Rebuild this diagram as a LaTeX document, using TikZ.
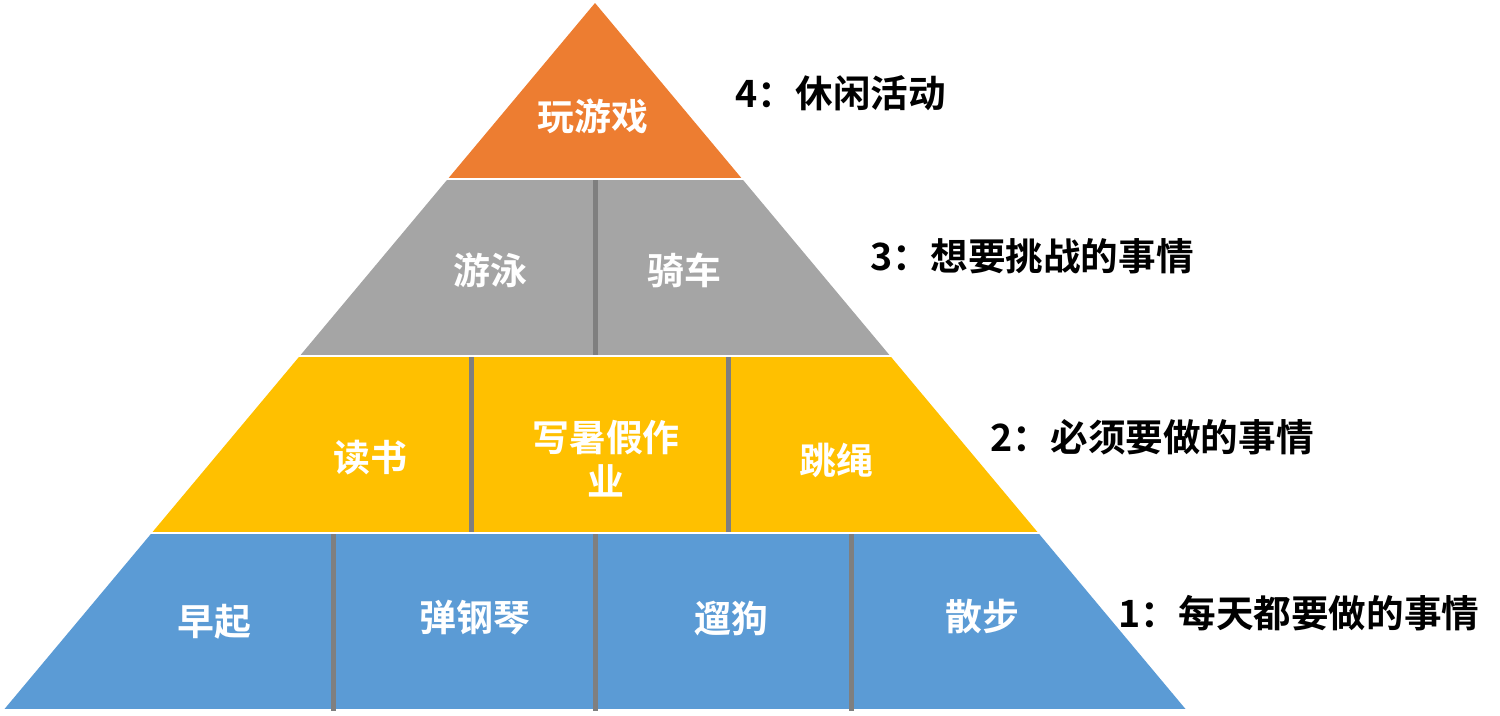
\documentclass[tikz,border=0pt]{standalone}
\usepackage{fontspec}
\setmainfont{Noto Sans CJK SC}[BoldFont={Noto Sans CJK SC Bold}]
\usetikzlibrary{positioning}
\definecolor{tierorange}{HTML}{ED7D31}
\definecolor{tiergray}{HTML}{A5A5A5}
\definecolor{tieryellow}{HTML}{FFC000}
\definecolor{tierblue}{HTML}{5B9BD5}
\definecolor{sepgray}{HTML}{7F7F7F}
\tikzset{
      itemtext/.style={
        text=white,
        font=\bfseries\fontsize{10.5pt}{12.5pt}\selectfont,
        align=center,
        inner sep=0pt
      },
      leveltext/.style={
        text=black,
        font=\bfseries\fontsize{10.7pt}{13pt}\selectfont,
        anchor=west,
        inner sep=0pt
      },
      sepline/.style={
        draw=sepgray,
        line width=0.5mm
      }
    }
\begin{document}
\begin{tikzpicture}[x=0.1mm,y=-0.1mm]
    \useasboundingbox (0,0) rectangle (1500,715);
    % tiers of the pyramid
    \begin{scope}
      \clip (595,3) -- (1185.5,709) -- (4.5,709) -- cycle;
      \fill[tierorange] (0,0) rectangle (1500,178);
      \fill[tiergray] (0,180) rectangle (1500,355);
      \fill[tieryellow] (0,357) rectangle (1500,532);
      \fill[tierblue] (0,534) rectangle (1500,709);
    \end{scope}
    % separators
    \draw[sepline] (595,180) -- (595,355);
    \draw[sepline] (471,357) -- (471,532);
    \draw[sepline] (728,357) -- (728,532);
    \draw[sepline] (333,534) -- (333,711);
    \draw[sepline] (595,534) -- (595,711);
    \draw[sepline] (851,534) -- (851,711);
    % items
    \node[itemtext] (game) at (593,116) {玩游戏};
    \node[itemtext] (swim) at (490,270) {游泳};
    \node[itemtext] (bike) at (684,270) {骑车};
    \node[itemtext] (read) at (370,458) {读书};
    \node[itemtext] (homework) at (606,459) {写暑假作\\业};
    \node[itemtext] (rope) at (836,460) {跳绳};
    \node[itemtext] (getup) at (214,622) {早起};
    \node[itemtext] (piano) at (475,618) {弹钢琴};
    \node[itemtext] (dog) at (731,619) {遛狗};
    \node[itemtext] (walk) at (982,617) {散步};
    % levels
    \node[leveltext] (lv4) at (735,93) {4：休闲活动};
    \node[leveltext] (lv3) at (870,256) {3：想要挑战的事情};
    \node[leveltext] (lv2) at (990,437) {2：必须要做的事情};
    \node[leveltext] (lv1) at (1118,613) {1：每天都要做的事情};
\end{tikzpicture}
\end{document}
